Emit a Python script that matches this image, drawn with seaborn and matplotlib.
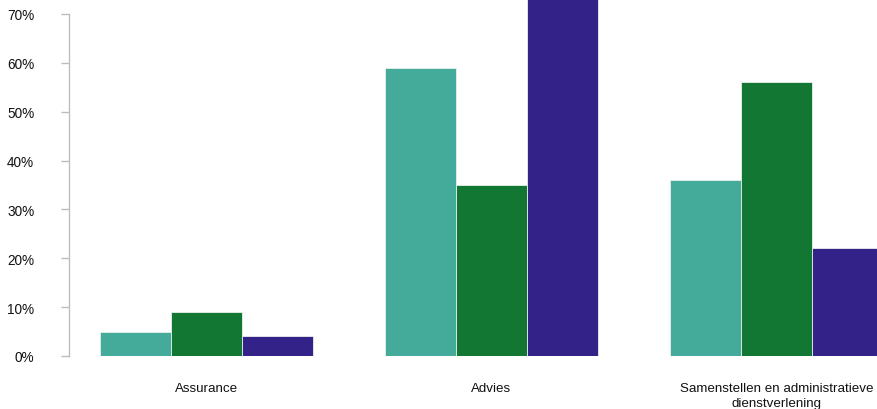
import matplotlib
matplotlib.use("Agg")
import matplotlib.pyplot as plt
import seaborn as sns
import pandas as pd
from matplotlib.ticker import FuncFormatter

categories = ["Assurance", "Advies", "Samenstellen en administratieve\ndienstverlening"]
series_names = ["Reeks 1", "Reeks 2", "Reeks 3"]
series1 = [5, 59, 36]
series2 = [9, 35, 56]
series3 = [4, 73, 22]
colors = ["#44AA99", "#117733", "#332288"]
yticks = [0, 10, 20, 30, 40, 50, 60, 70]

rows = []
for name, vals in zip(series_names, [series1, series2, series3]):
    for c, v in zip(categories, vals):
        rows.append({"cat": c, "serie": name, "val": v})
df = pd.DataFrame(rows)

sns.set_style("white")
plt.rcParams["font.family"] = ["Liberation Sans", "DejaVu Sans"]

fig = plt.figure(figsize=(8.78, 4.10), dpi=100)
ax = fig.add_axes([69 / 878, 53 / 410, 1 - 69 / 878, 357 / 410])
sns.barplot(data=df, x="cat", y="val", hue="serie", palette=colors, width=0.75,
            saturation=1, edgecolor="#e8f0ee", linewidth=0.6, ax=ax,
            legend=False, errorbar=None)

ax.set_xlim(-0.482, 2.356)
ax.set_ylim(0, 73.05)
ax.set_yticks(yticks)
ax.yaxis.set_major_formatter(FuncFormatter(lambda v, p: f"{int(v)}%"))
ax.set_xlabel("")
ax.set_ylabel("")
for s in ["top", "right", "bottom"]:
    ax.spines[s].set_visible(False)
ax.spines["left"].set_color("#bdbdbd")
ax.spines["left"].set_linewidth(1.0)
ax.spines["left"].set_bounds(0, 70)
ax.tick_params(axis="y", length=6, width=1.0, color="#bdbdbd", pad=19,
               labelsize=9.8, labelcolor="#111111", left=True)
ax.tick_params(axis="x", length=0, pad=19, labelsize=9.6, labelcolor="#111111")
for t in ax.get_xticklabels():
    t.set_horizontalalignment("center")
    t.set_multialignment("center")
    t.set_linespacing(1.25)

fig.savefig("out.png", dpi=100)
